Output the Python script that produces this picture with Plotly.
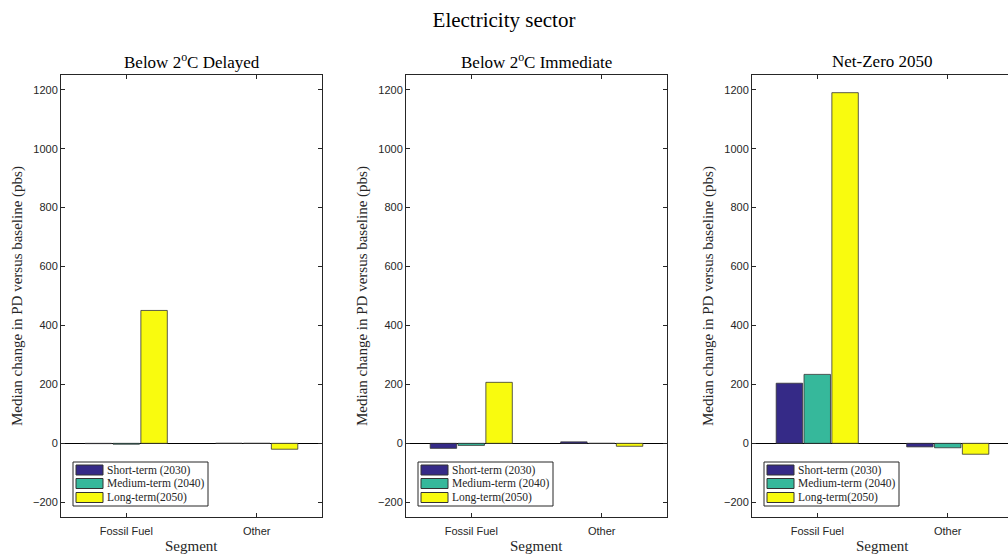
import plotly.graph_objects as go

categories = ["Fossil Fuel", "Other"]
scenarios = ["Below 2<sup>o</sup>C Delayed", "Below 2<sup>o</sup>C Immediate", "Net-Zero 2050"]
series_names = ["Short-term (2030)", "Medium-term (2040)", "Long-term(2050)"]
colors = ["#352A87", "#36B89B", "#F9FB0E"]

# values per scenario and series -> [Fossil Fuel, Other]
delayed_short = [-1, 0]
delayed_medium = [-3, 0]
delayed_long = [451, -20]
immediate_short = [-17, 5]
immediate_medium = [-7, 0]
immediate_long = [207, -10]
netzero_short = [204, -12]
netzero_medium = [234, -15]
netzero_long = [1190, -37]

values = [
    [delayed_short, delayed_medium, delayed_long],
    [immediate_short, immediate_medium, immediate_long],
    [netzero_short, netzero_medium, netzero_long],
]
y_ticks = [-200, 0, 200, 400, 600, 800, 1000, 1200]

W, H = 1008, 554
left_px = [61, 406, 752]
pw = 261
top_px, bot_px = 75, 517

serif = "Liberation Serif, Times New Roman, serif"
sans = "Liberation Sans, Arial, sans-serif"
axcol = "#262626"


def px_x(x):
    return x / W


def px_y(y):
    return 1 - y / H


fig = go.Figure()
for p in range(3):
    xa = "x" if p == 0 else f"x{p+1}"
    ya = "y" if p == 0 else f"y{p+1}"
    for s in range(3):
        fig.add_trace(go.Bar(
            x=categories, y=values[p][s], name=series_names[s],
            marker=dict(color=colors[s], line=dict(color="#333333", width=0.8)),
            xaxis=xa, yaxis=ya, showlegend=False,
        ))

annotations = []
shapes = []
layout = dict(
    width=W, height=H,
    margin=dict(l=0, r=0, t=0, b=0),
    paper_bgcolor="white", plot_bgcolor="white",
    barmode="group", bargap=0.36, bargroupgap=0.05,
    title=dict(text="Electricity sector", x=0.5, xanchor="center", y=px_y(20), yanchor="middle",
               font=dict(family=serif, size=21, color="black")),
)

for p in range(3):
    x0 = px_x(left_px[p])
    x1 = min(px_x(left_px[p] + pw), 1.0)
    span_units = 2.0 * ((x1 * W) - left_px[p]) / pw
    sfx = "" if p == 0 else str(p + 1)
    layout["xaxis" + sfx] = dict(
        domain=[x0, x1], anchor="y" + sfx, type="category",
        range=[-0.5, -0.5 + span_units],
        showline=True, linecolor=axcol, linewidth=1, mirror="ticks",
        ticks="inside", ticklen=4, tickcolor=axcol, ticklabelstandoff=4,
        tickfont=dict(family=sans, size=11, color=axcol),
        showgrid=False, automargin=False, fixedrange=True,
    )
    layout["yaxis" + sfx] = dict(
        domain=[px_y(bot_px), px_y(top_px)], anchor="x" + sfx,
        range=[-250, 1250], tickvals=y_ticks,
        showline=True, linecolor=axcol, linewidth=1, mirror="ticks" if p < 2 else False,
        ticks="inside", ticklen=4, tickcolor=axcol,
        tickfont=dict(family=sans, size=11, color=axcol),
        showgrid=False, zeroline=True, zerolinecolor="black", zerolinewidth=1,
        automargin=False, fixedrange=True,
    )
    cx = px_x(left_px[p] + pw / 2)
    annotations += [
        dict(text=scenarios[p], xref="paper", yref="paper", x=cx, y=px_y(61),
             xanchor="center", yanchor="middle", showarrow=False,
             font=dict(family=serif, size=17, color="black")),
        dict(text="Median change in PD versus baseline (pbs)", xref="paper", yref="paper",
             x=px_x(left_px[p] - 44), y=px_y((top_px + bot_px) / 2),
             xanchor="center", yanchor="middle", textangle=-90, showarrow=False,
             font=dict(family=serif, size=15, color=axcol)),
        dict(text="Segment", xref="paper", yref="paper", x=cx, y=px_y(546),
             xanchor="center", yanchor="middle", showarrow=False,
             font=dict(family=serif, size=15, color=axcol)),
    ]
    # legend box drawn per panel
    lx0 = left_px[p] + 12
    lx1 = lx0 + 135
    ly0, ly1 = 462, 506
    shapes.append(dict(type="rect", xref="paper", yref="paper",
                       x0=px_x(lx0), x1=px_x(lx1), y0=px_y(ly1), y1=px_y(ly0),
                       line=dict(color=axcol, width=1), fillcolor="white", layer="above"))
    row_y = [470, 483.5, 497.5]
    for s in range(3):
        shapes.append(dict(type="rect", xref="paper", yref="paper",
                           x0=px_x(lx0 + 3), x1=px_x(lx0 + 30),
                           y0=px_y(row_y[s] + 5), y1=px_y(row_y[s] - 5),
                           line=dict(color="#333333", width=1), fillcolor=colors[s], layer="above"))
        annotations.append(dict(text=series_names[s], xref="paper", yref="paper",
                                x=px_x(lx0 + 32), y=px_y(row_y[s]), xanchor="left", yanchor="middle",
                                showarrow=False, font=dict(family=serif, size=11.5, color=axcol)))

layout["annotations"] = annotations
layout["shapes"] = shapes
fig.update_layout(**layout)
fig.write_html("out.html")
